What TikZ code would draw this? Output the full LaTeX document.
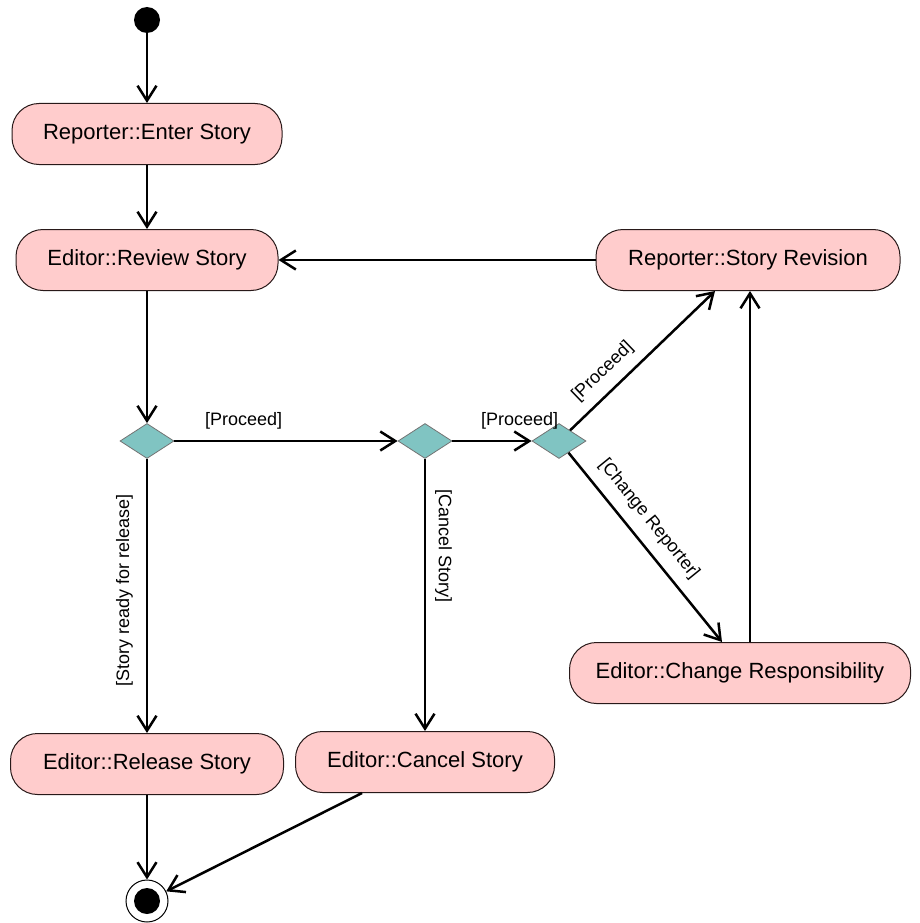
\documentclass[tikz,border=0pt]{standalone}
\usepackage{fontspec}
\setmainfont{Liberation Sans}
\usetikzlibrary{shapes.geometric,arrows.meta,calc}
\definecolor{actfill}{RGB}{255,204,204}
\definecolor{decfill}{RGB}{128,196,194}
\definecolor{actline}{RGB}{40,25,25}
\begin{document}
\begin{tikzpicture}[x=1pt,y=-1pt,
  action/.style={draw=actline, line width=1pt, fill=actfill, rounded corners=27pt,
    minimum height=61pt, inner sep=0pt, font=\fontsize{22}{26}\selectfont},
  decision/.style={diamond, draw=black!55, line width=0.8pt, fill=decfill,
    minimum width=54pt, minimum height=35pt, inner sep=0pt},
  flow/.style={line width=2.5pt,
    -{Straight Barb[length=15pt,width=19pt,line width=2.5pt]}},
  guard/.style={font=\fontsize{18}{20}\selectfont, inner sep=2pt},
]
\useasboundingbox (0,0) rectangle (920,923);

% activity states
\node[circle, fill=black, minimum size=26pt, inner sep=0pt] (init) at (147,20) {};
\node[action, minimum width=270pt] (enter)    at (147,134) {Reporter::Enter Story};
\node[action, minimum width=262pt] (review)   at (147,260) {Editor::Review Story};
\node[action, minimum width=304pt] (revision) at (748,260) {Reporter::Story Revision};
\node[action, minimum width=341pt] (change)   at (740,673) {Editor::Change Responsibility};
\node[action, minimum width=273pt] (release)  at (147,764) {Editor::Release Story};
\node[action, minimum width=259pt] (cancel)   at (425,762) {Editor::Cancel Story};

% decisions
\node[decision] (d1) at (147,441) {};
\node[decision] (d2) at (425,441) {};
\node[decision] (d3) at (559,441) {};

% final state
\node[circle, draw=black, line width=1pt, fill=white, minimum size=42pt, inner sep=0pt,
  path picture={\fill[black] (path picture bounding box.center) circle (13pt);}]
  (final) at (147,901) {};

% transitions
\draw[flow] (init) -- (enter);
\draw[flow] (enter) -- (review);
\draw[flow] (revision.west) -- (review.east);
\draw[flow] (review) -- (d1);
\draw[flow] (d1) -- node[guard, pos=0.31, above=9pt] {[Proceed]} (d2);
\draw[flow] (d2) -- node[guard, pos=0.85, above=9pt] {[Proceed]} (d3);
\draw[flow] (d3) -- node[guard, sloped, pos=0.32, above=8pt] {[Proceed]}
  ($(revision.south)+(-33,0)$);
\draw[flow] (d3) -- node[guard, sloped, pos=0.42, above=9pt] {[Change Reporter]}
  ($(change.north)+(-18,0)$);
\coordinate (up) at ($(change.north)+(10,0)$);
\draw[flow] (up) -- (up |- revision.south);
\draw[flow] (d1) -- node[guard, pos=0.48, rotate=90, anchor=south, inner ysep=13pt]
  {[Story ready for release]} (release);
\draw[flow] (d2) -- node[guard, pos=0.32, rotate=-90, anchor=south, inner ysep=9pt]
  {[Cancel Story]} (cancel);
\draw[flow] (release) -- (final);
\draw[flow] ($(cancel.south)+(-63,0)$) -- (final);
\end{tikzpicture}
\end{document}
